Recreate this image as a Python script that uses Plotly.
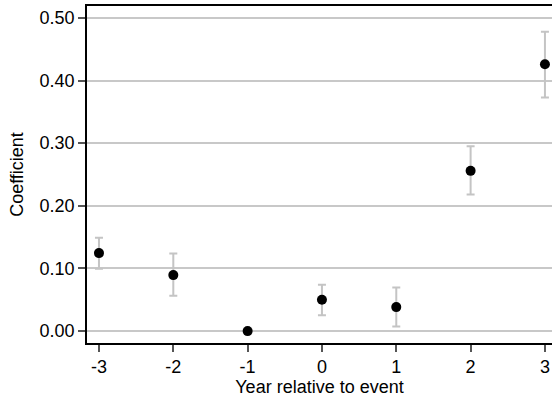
import plotly.graph_objects as go

years = [-3, -2, -1, 0, 1, 2, 3]
year_labels = ["-3", "-2", "-1", "0", "1", "2", "3"]
coef = [0.1245, 0.0894, 0.0, 0.050, 0.0383, 0.2558, 0.426]
ci_upper = [0.149, 0.124, 0.0, 0.074, 0.0696, 0.2952, 0.478]
ci_lower = [0.0994, 0.0563, 0.0, 0.0255, 0.0074, 0.218, 0.373]
y_ticks = [0.0, 0.1, 0.2, 0.3, 0.4, 0.5]

err_plus = [u - c for u, c in zip(ci_upper, coef)]
err_minus = [c - l for c, l in zip(coef, ci_lower)]

FONT = "Liberation Sans, Arial, Helvetica, sans-serif"

fig = go.Figure()
fig.add_trace(go.Scatter(
    x=years, y=coef, mode="markers",
    marker=dict(color="black", size=10),
    error_y=dict(type="data", symmetric=False, array=err_plus, arrayminus=err_minus,
                 color="#c4c4c4", thickness=2, width=4),
    showlegend=False,
    cliponaxis=False,
))

fig.add_hline(y=0, line=dict(color="#6e6e6e", width=2), layer="below")

fig.update_layout(
    width=552, height=397,
    margin=dict(l=87, r=0, t=6, b=54, autoexpand=False),
    paper_bgcolor="white", plot_bgcolor="white",
    font=dict(family=FONT, size=18, color="black"),
    xaxis=dict(
        range=[-3.161, 3.095],
        tickvals=years, ticktext=year_labels,
        showgrid=False, zeroline=False,
        showline=True, linecolor="black", linewidth=1.5, mirror=True,
        ticks="outside", ticklen=7, tickcolor="#555555", tickwidth=1.5,
        title=dict(text="Year relative to event", font=dict(size=18), standoff=1),
        tickfont=dict(size=18),
        automargin=False,
    ),
    yaxis=dict(
        range=[-0.019, 0.519],
        tickvals=y_ticks, tickformat=".2f",
        showgrid=True, gridcolor="#c8c8c8", gridwidth=1.5,
        zeroline=False,
        showline=True, linecolor="black", linewidth=1.5,
        ticks="outside", ticklen=7, tickcolor="#555555", tickwidth=1.5,
        title=dict(text="Coefficient", font=dict(size=18), standoff=11),
        tickfont=dict(size=18),
        automargin=False,
    ),
)

fig.write_html(
    "out.html",
    config={"displayModeBar": False},
    post_script="document.body.style.margin='0';document.body.style.overflow='hidden';",
)
